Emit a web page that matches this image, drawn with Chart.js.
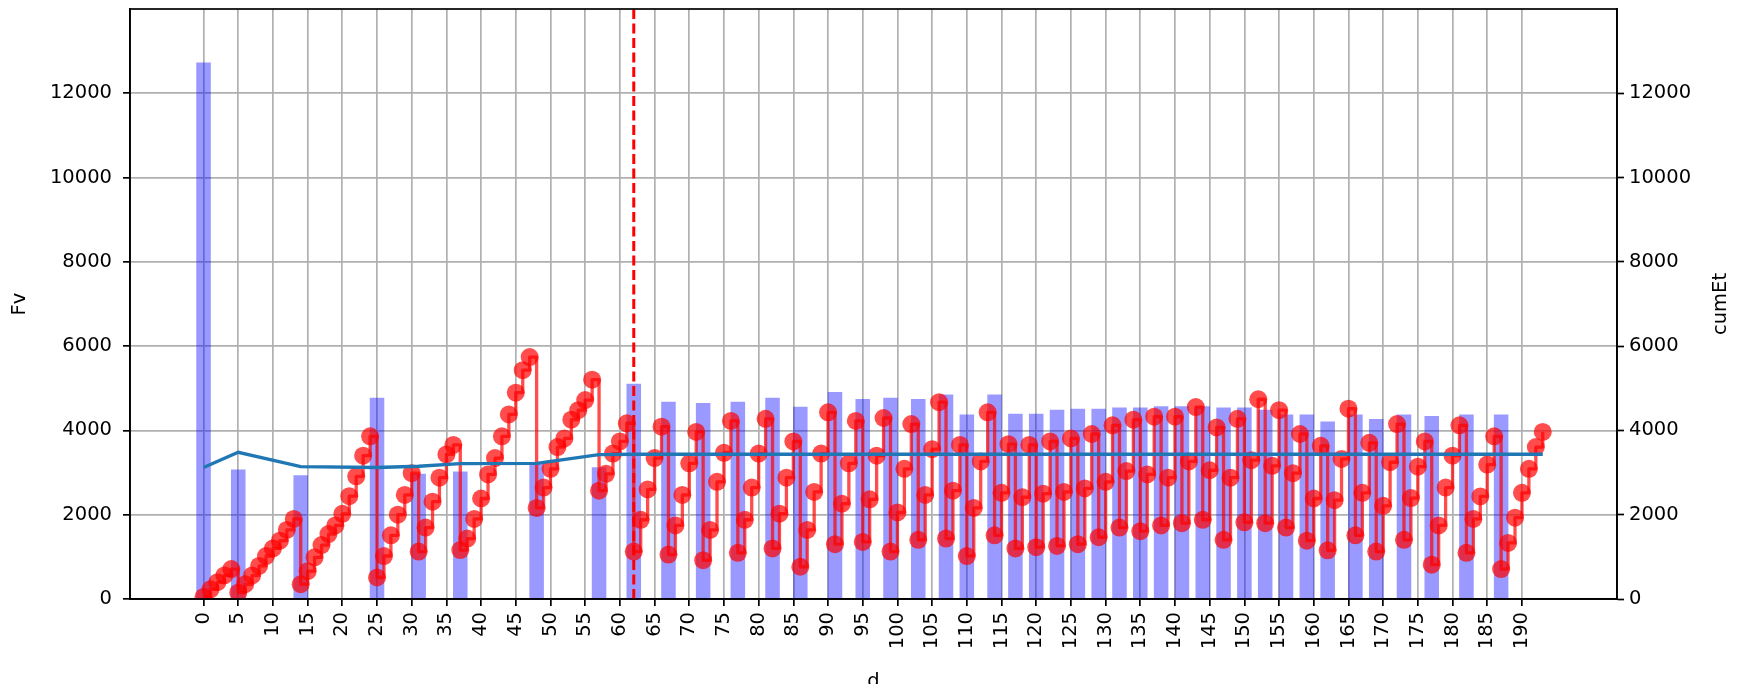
<!DOCTYPE html>
<html>
<head>
<meta charset="utf-8">
<script src="https://cdn.jsdelivr.net/npm/chart.js@4.4.1/dist/chart.umd.min.js"></script>
<style>
    html, body { margin: 0; padding: 0; background: #fff; }
    #wrap { width: 1739px; height: 684px; }
</style>
</head>
<body>
<div id="wrap"><canvas id="fvChart"></canvas></div>
<script>
// Fv per day, day 0 .. 193
const fvValues = [
    50, 230, 400, 560, 710, 150, 350, 560, 785, 1020,
    1200, 1385, 1640, 1900, 350, 660, 990, 1280, 1540, 1745,
    2020, 2440, 2910, 3400, 3860, 510, 1020, 1510, 2000, 2470,
    2985, 1125, 1695, 2310, 2880, 3430, 3655, 1160, 1435, 1900,
    2385, 2955, 3345, 3860, 4380, 4895, 5430, 5740, 2160, 2645,
    3090, 3605, 3810, 4255, 4480, 4720, 5205, 2570, 2970, 3450,
    3740, 4170, 1125, 1880, 2600, 3345, 4090, 1055, 1745, 2470,
    3220, 3965, 920, 1640, 2780, 3470, 4225, 1095, 1880, 2645,
    3450, 4275, 1200, 2025, 2880, 3740, 765, 1640, 2540, 3450,
    4430, 1300, 2260, 3220, 4225, 1355, 2365, 3400, 4295, 1125,
    2055, 3090, 4150, 1405, 2470, 3555, 4670, 1435, 2570, 3655,
    1020, 2160, 3265, 4430, 1510, 2520, 3675, 1200, 2415, 3655,
    1230, 2500, 3740, 1260, 2540, 3810, 1300, 2625, 3915, 1465,
    2780, 4120, 1695, 3035, 4255, 1610, 2955, 4325, 1745, 2880,
    4325, 1800, 3265, 4555, 1880, 3055, 4070, 1405, 2880, 4275,
    1820, 3295, 4740, 1800, 3160, 4480, 1695, 2985, 3915, 1385,
    2385, 3635, 1155, 2345, 3325, 4515, 1510, 2520, 3705, 1125,
    2210, 3245, 4150, 1405, 2395, 3140, 3740, 815, 1745, 2645,
    3400, 4120, 1095, 1900, 2435, 3190, 3860, 710, 1330, 1930,
    2520, 3090, 3605, 3965
];
const fvDays = fvValues.map((_, i) => i);

// supply events (bars)
const barDays = [0, 5, 14, 25, 31, 37, 48, 57, 62, 67, 72, 77, 82, 86, 91, 95, 99, 103, 107, 110,
    114, 117, 120, 123, 126, 129, 132, 135, 138, 141, 144, 147, 150, 153, 156, 159, 162, 166, 169, 173,
    177, 182, 187];
const barValues = [12720, 3065, 2930, 4770, 2965, 3015, 3200, 3120, 5100, 4670, 4645, 4670, 4770, 4555, 4905, 4740, 4770, 4740, 4845, 4370,
    4845, 4390, 4390, 4480, 4505, 4505, 4535, 4535, 4565, 4565, 4565, 4535, 4535, 4480, 4370, 4370, 4205, 4370, 4265, 4370,
    4335, 4370, 4370];

// cumEt (right axis)
const cumDays = [0, 5, 14, 25, 31, 37, 48, 57, 62, 67, 72, 77, 82, 86, 91, 95, 99, 103, 107, 110,
    114, 117, 120, 123, 126, 129, 132, 135, 138, 141, 144, 147, 150, 153, 156, 159, 162, 166, 169, 173,
    177, 182, 187, 193];
const cumValues = [3120, 3480, 3140, 3120, 3150, 3210, 3220, 3425, 3435, 3435, 3435, 3435, 3435, 3435, 3435, 3435, 3435, 3435, 3435, 3435,
    3435, 3435, 3435, 3435, 3435, 3435, 3435, 3435, 3435, 3435, 3435, 3435, 3435, 3435, 3435, 3435, 3435, 3435, 3435, 3435,
    3435, 3435, 3435, 3435];

const markerDay = 62;

const xTicks = [0, 5, 10, 15, 20, 25, 30, 35, 40, 45, 50, 55, 60, 65, 70, 75, 80, 85, 90, 95,
    100, 105, 110, 115, 120, 125, 130, 135, 140, 145, 150, 155, 160, 165, 170, 175, 180, 185, 190];
const yTicks = [0, 2000, 4000, 6000, 8000, 10000, 12000];
const xRange = [-10.6, 203.7];
const yRange = [0, 14000];

const BAR_WIDTH_DAYS = 2;
const FONT = { family: '"DejaVu Sans", sans-serif', size: 19.5 };
const GRID = '#b0b0b0';
const LW = 1.7;

// box around the plot, plus the right-hand title (reads upward)
const frame = {
    id: 'frame',
    afterDraw(chart) {
        const { ctx, chartArea: a } = chart;
        ctx.save();
        ctx.strokeStyle = '#000';
        ctx.lineWidth = LW;
        ctx.strokeRect(a.left, a.top, a.right - a.left, a.bottom - a.top);
        ctx.translate(chart.width - 18, (a.top + a.bottom) / 2);
        ctx.rotate(-Math.PI / 2);
        ctx.font = `${FONT.size}px ${FONT.family}`;
        ctx.fillStyle = '#000';
        ctx.textAlign = 'center';
        ctx.textBaseline = 'middle';
        ctx.fillText('cumEt', 0, 0);
        ctx.restore();
    }
};

const tickStyle = { color: '#000', font: FONT, padding: 5, callback: v => String(v) };

// fixed axis box sizes, no extra room for half-labels
const fixWidth = w => axis => { axis.width = w; axis.paddingTop = 0; axis.paddingBottom = 0; };

const chart = new Chart(document.getElementById('fvChart'), {
    type: 'line',
    data: {
        datasets: [
            {
                label: 'cumEt',
                data: cumDays.map((d, i) => ({ x: d, y: cumValues[i] })),
                borderColor: '#1f77b4',
                borderWidth: 3.3,
                pointRadius: 0,
                tension: 0,
                yAxisID: 'y1',
                order: 0
            },
            {
                label: 'marker',
                data: [{ x: markerDay, y: yRange[0] }, { x: markerDay, y: yRange[1] }],
                borderColor: '#ff0000',
                borderWidth: 3,
                borderDash: [10, 4.5],
                pointRadius: 0,
                yAxisID: 'y',
                order: 1
            },
            {
                label: 'Fv',
                data: fvDays.map((d, i) => ({ x: d, y: fvValues[i] })),
                stepped: 'before',
                borderColor: 'rgba(255,0,0,0.7)',
                borderWidth: 3.3,
                borderJoinStyle: 'round',
                pointRadius: 9,
                pointHoverRadius: 9,
                pointBackgroundColor: 'rgba(255,0,0,0.7)',
                pointBorderWidth: 0,
                clip: 0,
                yAxisID: 'y',
                order: 2
            },
            {
                type: 'bar',
                label: 'supply',
                data: barDays.map((d, i) => ({ x: d, y: barValues[i] })),
                backgroundColor: 'rgba(0,0,255,0.4)',
                borderWidth: 0,
                barThickness: 14,
                yAxisID: 'y',
                order: 3
            }
        ]
    },
    options: {
        responsive: true,
        maintainAspectRatio: false,
        devicePixelRatio: 1,
        animation: false,
        layout: { padding: { top: 8, left: 0, right: 0, bottom: 0 } },
        plugins: { legend: { display: false }, tooltip: { enabled: false } },
        scales: {
            x: {
                type: 'linear',
                min: xRange[0],
                max: xRange[1],
                offset: false,
                afterBuildTicks: axis => { axis.ticks = xTicks.map(v => ({ value: v })); },
                afterFit: axis => { axis.height = 85; axis.paddingLeft = 0; axis.paddingRight = 0; },
                ticks: { ...tickStyle, padding: 6, autoSkip: false, minRotation: 90, maxRotation: 90 },
                grid: { color: GRID, lineWidth: LW, tickColor: '#000', tickLength: 7, tickWidth: LW, offset: false },
                border: { color: '#000', width: LW },
                title: { display: true, text: 'd', color: '#000', font: FONT, padding: { top: 0, bottom: -10 } }
            },
            y: {
                type: 'linear',
                position: 'left',
                min: yRange[0],
                max: yRange[1],
                afterBuildTicks: axis => { axis.ticks = yTicks.map(v => ({ value: v })); },
                afterFit: fixWidth(130),
                ticks: { ...tickStyle, padding: 11 },
                grid: { color: GRID, lineWidth: LW, tickColor: '#000', tickLength: 7, tickWidth: LW },
                border: { color: '#000', width: LW },
                title: { display: true, text: 'Fv', color: '#000', font: FONT, padding: { top: 8, bottom: 0 } }
            },
            y1: {
                type: 'linear',
                position: 'right',
                min: yRange[0],
                max: yRange[1],
                afterBuildTicks: axis => { axis.ticks = yTicks.map(v => ({ value: v })); },
                afterFit: fixWidth(122),
                ticks: tickStyle,
                grid: { drawOnChartArea: false, tickColor: '#000', tickLength: 7, tickWidth: LW },
                border: { color: '#000', width: LW }
            }
        }
    },
    plugins: [frame]
});

// bars are 2 days wide in data units
const xs = chart.scales.x;
chart.data.datasets[3].barThickness = BAR_WIDTH_DAYS * (xs.getPixelForValue(1) - xs.getPixelForValue(0));
chart.update('none');
</script>
</body>
</html>
